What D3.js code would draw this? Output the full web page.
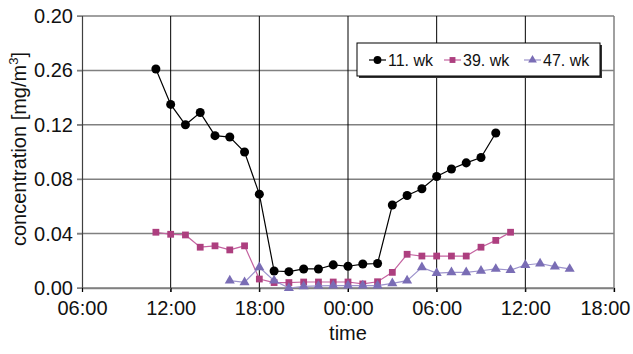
<!DOCTYPE html>
<html>
<head>
<meta charset="utf-8">
<script src="https://cdn.jsdelivr.net/npm/d3@7"></script>
<style>
  body { margin: 0; background: #fff; }
  text { font-family: "Liberation Sans", Arial, sans-serif; }
</style>
</head>
<body>
<div id="chart"></div>
<script>
// hours since midnight of day 1 (so 24 = 00:00 next day)
const hours11 = d3.range(11, 35);
const wk11 = [0.161, 0.135, 0.120, 0.129, 0.112, 0.111, 0.100, 0.069, 0.0125, 0.012, 0.014, 0.014,
              0.017, 0.016, 0.0176, 0.018, 0.061, 0.068, 0.073, 0.082, 0.0875, 0.092, 0.096, 0.114];
const hours39 = d3.range(11, 36);
const wk39 = [0.041, 0.0395, 0.039, 0.030, 0.031, 0.028, 0.031, 0.0066, 0.004, 0.004, 0.0044, 0.0044,
              0.0044, 0.0044, 0.003, 0.0046, 0.0115, 0.0248, 0.0235, 0.0235, 0.0235, 0.0235, 0.030, 0.035, 0.041];
const hours47 = d3.range(16, 40);
const wk47 = [0.0054, 0.0042, 0.0152, 0.0054, 0.0, 0.0012, 0.0015, 0.0017, 0.0017, 0.0017, 0.0017, 0.0034,
              0.0054, 0.0152, 0.011, 0.0115, 0.0115, 0.0127, 0.014, 0.0132, 0.0169, 0.018, 0.0157, 0.014];

const yTicks = [0, 0.04, 0.08, 0.12, 0.16, 0.20];
const yTickLabels = ["0.00", "0.04", "0.08", "0.12", "0.26", "0.20"];
const xTicks = [6, 12, 18, 24, 30, 36, 42];

const series = [
  { name: "11. wk", hours: hours11, values: wk11, symbol: d3.symbolCircle, size: 64, fill: "#000", line: "#000" },
  { name: "39. wk", hours: hours39, values: wk39, symbol: d3.symbolSquare, size: 46, fill: "#ad3f7f", line: "#c463a0" },
  { name: "47. wk", hours: hours47, values: wk47, symbol: d3.symbolTriangle, size: 44, fill: "#7a6db5", line: "#9d93cc" }
];

const W = 633, H = 354;
const pLeft = 82, pRight = 614, pTop = 16, pBottom = 288;

const svg = d3.select("#chart").append("svg")
  .attr("width", W).attr("height", H);

const x = d3.scaleLinear().domain([6, 42]).range([pLeft, pRight]);
const y = d3.scaleLinear().domain([0, 0.2]).range([pBottom, pTop]);

// horizontal grid (gray)
svg.append("g")
  .selectAll("line")
  .data(yTicks)
  .join("line")
  .attr("x1", pLeft - 5).attr("x2", pRight)
  .attr("y1", d => y(d)).attr("y2", d => y(d))
  .attr("stroke", "#808080").attr("stroke-width", 1.5);

// vertical grid (black)
svg.append("g")
  .selectAll("line")
  .data(xTicks.slice(1, -1))
  .join("line")
  .attr("x1", d => x(d)).attr("x2", d => x(d))
  .attr("y1", pTop).attr("y2", pBottom + 4)
  .attr("stroke", "#000").attr("stroke-width", 1);

// frame
svg.append("line").attr("x1", pRight).attr("x2", pRight).attr("y1", pTop).attr("y2", pBottom + 4)
  .attr("stroke", "#808080").attr("stroke-width", 1.5);

// axes
const yAxis = d3.axisLeft(y).tickValues(yTicks)
  .tickFormat((d, i) => yTickLabels[i]).tickSize(5).tickPadding(4);
const gy = svg.append("g").attr("transform", `translate(${pLeft},0)`).call(yAxis);
gy.select(".domain").attr("stroke", "#404040").attr("stroke-width", 1.2);
gy.selectAll(".tick line").attr("stroke", "#808080");
gy.selectAll("text").attr("font-size", 20).attr("fill", "#111")
  .attr("font-family", "Liberation Sans, Arial, sans-serif");

const xAxis = d3.axisBottom(x).tickValues(xTicks)
  .tickFormat(d => String(d % 24).padStart(2, "0") + ":00").tickSize(4).tickPadding(9);
const gx = svg.append("g").attr("transform", `translate(0,${pBottom})`).call(xAxis);
gx.select(".domain").attr("stroke", "#808080").attr("stroke-width", 1.5);
gx.selectAll(".tick line").attr("stroke", "#000");
gx.selectAll("text").attr("font-size", 20).attr("fill", "#111")
  .attr("font-family", "Liberation Sans, Arial, sans-serif");
// last label is pulled in so it stays inside the page
gx.selectAll(".tick").filter(d => d === 42).select("text")
  .attr("text-anchor", "end").attr("x", 16);

// axis titles
svg.append("text")
  .attr("x", (pLeft + pRight) / 2).attr("y", 340)
  .attr("text-anchor", "middle").attr("font-size", 20).attr("fill", "#111")
  .text("time");

const yt = svg.append("text")
  .attr("transform", "translate(26,149) rotate(-90)")
  .attr("text-anchor", "middle").attr("font-size", 20).attr("fill", "#111");
yt.append("tspan").text("concentration [mg/m");
yt.append("tspan").attr("font-size", 13).attr("dy", -8).text("3");
yt.append("tspan").attr("dy", 8).text("]");

// series
const line = d3.line();
series.forEach(s => {
  const pts = s.hours.map((h, i) => [x(h), y(s.values[i])]);
  svg.append("path")
    .attr("d", line(pts))
    .attr("fill", "none")
    .attr("stroke", s.line)
    .attr("stroke-width", 1.2);
  svg.append("g")
    .selectAll("path")
    .data(pts)
    .join("path")
    .attr("transform", d => `translate(${d[0]},${d[1]})`)
    .attr("d", d3.symbol().type(s.symbol).size(s.size))
    .attr("fill", s.fill);
});

// legend
const lg = svg.append("g").attr("transform", "translate(357,43)");
lg.append("rect").attr("x", 2).attr("y", 2).attr("width", 243).attr("height", 33).attr("fill", "#333");
lg.append("rect").attr("width", 243).attr("height", 33).attr("fill", "#fff")
  .attr("stroke", "#000").attr("stroke-width", 1);
const legX = [12, 87, 167];
series.forEach((s, i) => {
  const g = lg.append("g").attr("transform", `translate(${legX[i]},17)`);
  g.append("line").attr("x1", 0).attr("x2", 17).attr("stroke", s.line).attr("stroke-width", 1.2);
  g.append("path").attr("transform", "translate(8.5,0)")
    .attr("d", d3.symbol().type(s.symbol).size(s.size * 0.75)).attr("fill", s.fill);
  g.append("text").attr("x", 19).attr("y", 6).attr("font-size", 16).attr("fill", "#111").text(s.name);
});
</script>
</body>
</html>
